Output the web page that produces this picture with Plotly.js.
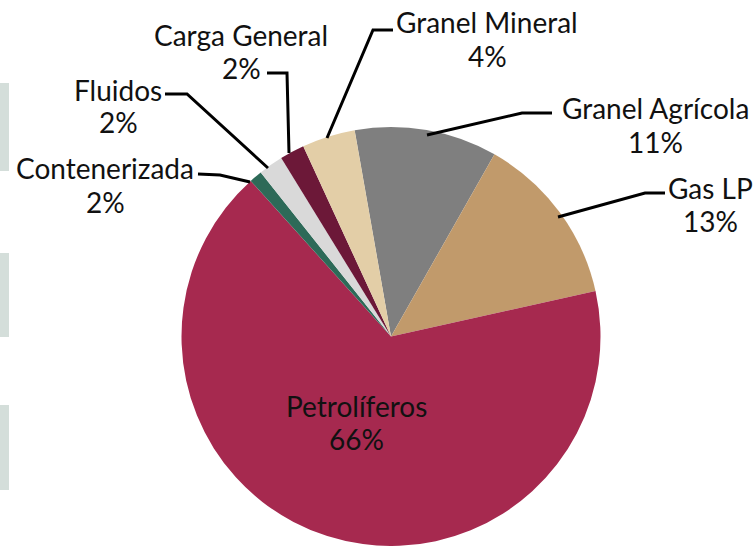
<!DOCTYPE html>
<html>
<head>
<meta charset="utf-8">
<script src="https://cdn.plot.ly/plotly-3.0.1.min.js"></script>
<style>
html,body{margin:0;padding:0;background:#fff;overflow:hidden;}
#chart{width:756px;height:546px;}
</style>
</head>
<body>
<div id="chart"></div>
<script>
// Data (clockwise from Granel Agrícola)
var categories = ["Granel Agrícola", "Gas LP", "Petrolíferos", "Contenerizada", "Fluidos", "Carga General", "Granel Mineral"];
var values = [11.0, 13.3, 66.8, 1.0, 1.9, 1.9, 4.1];
var percentLabels = ["11%", "13%", "66%", "2%", "2%", "2%", "4%"];
var colors = ["#7f7f7f", "#c19a6b", "#a6294f", "#2d6a58", "#d9d9d9", "#6c1838", "#e3cea7"];

var W = 756, H = 546;
function px(x){ return x / W; }
function py(y){ return 1 - y / H; }

// Label placement: [centre x, name centre y, percent centre y]
var labelPos = {
  "Granel Agrícola": [655, 108, 142],
  "Gas LP": [710, 188, 221],
  "Petrolíferos": [356, 406, 439],
  "Contenerizada": [105, 168, 202],
  "Fluidos": [118, 90, 122],
  "Carga General": [241, 35, 68],
  "Granel Mineral": [487, 22, 56]
};
var leaders = {
  "Granel Agrícola": [[552,113],[522,113],[427,135]],
  "Gas LP": [[665,193],[645,193],[558,217]],
  "Contenerizada": [[198,174],[220,175],[250,182]],
  "Fluidos": [[165,94],[187,94],[268,168]],
  "Carga General": [[267,73],[287,73],[289,153]],
  "Granel Mineral": [[393,30],[373,30],[327,138]]
};

var labelFont = {family: "Lato, sans-serif", size: 28, color: "#111"};
var annotations = [];
categories.forEach(function(c, i){
  var p = labelPos[c];
  annotations.push({
    x: px(p[0]), y: py(p[1]), xref: "paper", yref: "paper",
    text: c, showarrow: false, xanchor: "center", yanchor: "middle",
    font: labelFont
  });
  annotations.push({
    x: px(p[0]), y: py(p[2]), xref: "paper", yref: "paper",
    text: percentLabels[i], showarrow: false, xanchor: "center", yanchor: "middle",
    font: labelFont
  });
});

var shapes = [];
Object.keys(leaders).forEach(function(k){
  var pts = leaders[k];
  var d = pts.map(function(p, j){ return (j ? "L" : "M") + px(p[0]) + "," + py(p[1]); }).join(" ");
  shapes.push({type: "path", xref: "paper", yref: "paper", path: d,
    line: {color: "#000", width: 3}});
});
// left-edge page blocks
[[83,171],[253,337],[405,490]].forEach(function(r){
  shapes.push({type: "rect", xref: "paper", yref: "paper",
    x0: 0, x1: px(9), y0: py(r[1]), y1: py(r[0]),
    fillcolor: "#d4deda", line: {width: 0}, layer: "below"});
});

var trace = {
  type: "pie",
  labels: categories,
  values: values,
  sort: false,
  direction: "clockwise",
  rotation: -10,
  marker: {colors: colors, line: {width: 0}},
  textinfo: "none",
  hoverinfo: "none",
  showlegend: false,
  domain: {x: [px(160), px(622)], y: [0, py(127)]}
};

var layout = {
  width: W, height: H,
  margin: {l: 0, r: 0, t: 0, b: 0},
  paper_bgcolor: "#fff",
  showlegend: false,
  annotations: annotations,
  shapes: shapes
};

Plotly.newPlot("chart", [trace], layout, {displayModeBar: false, staticPlot: true});
</script>
</body>
</html>
